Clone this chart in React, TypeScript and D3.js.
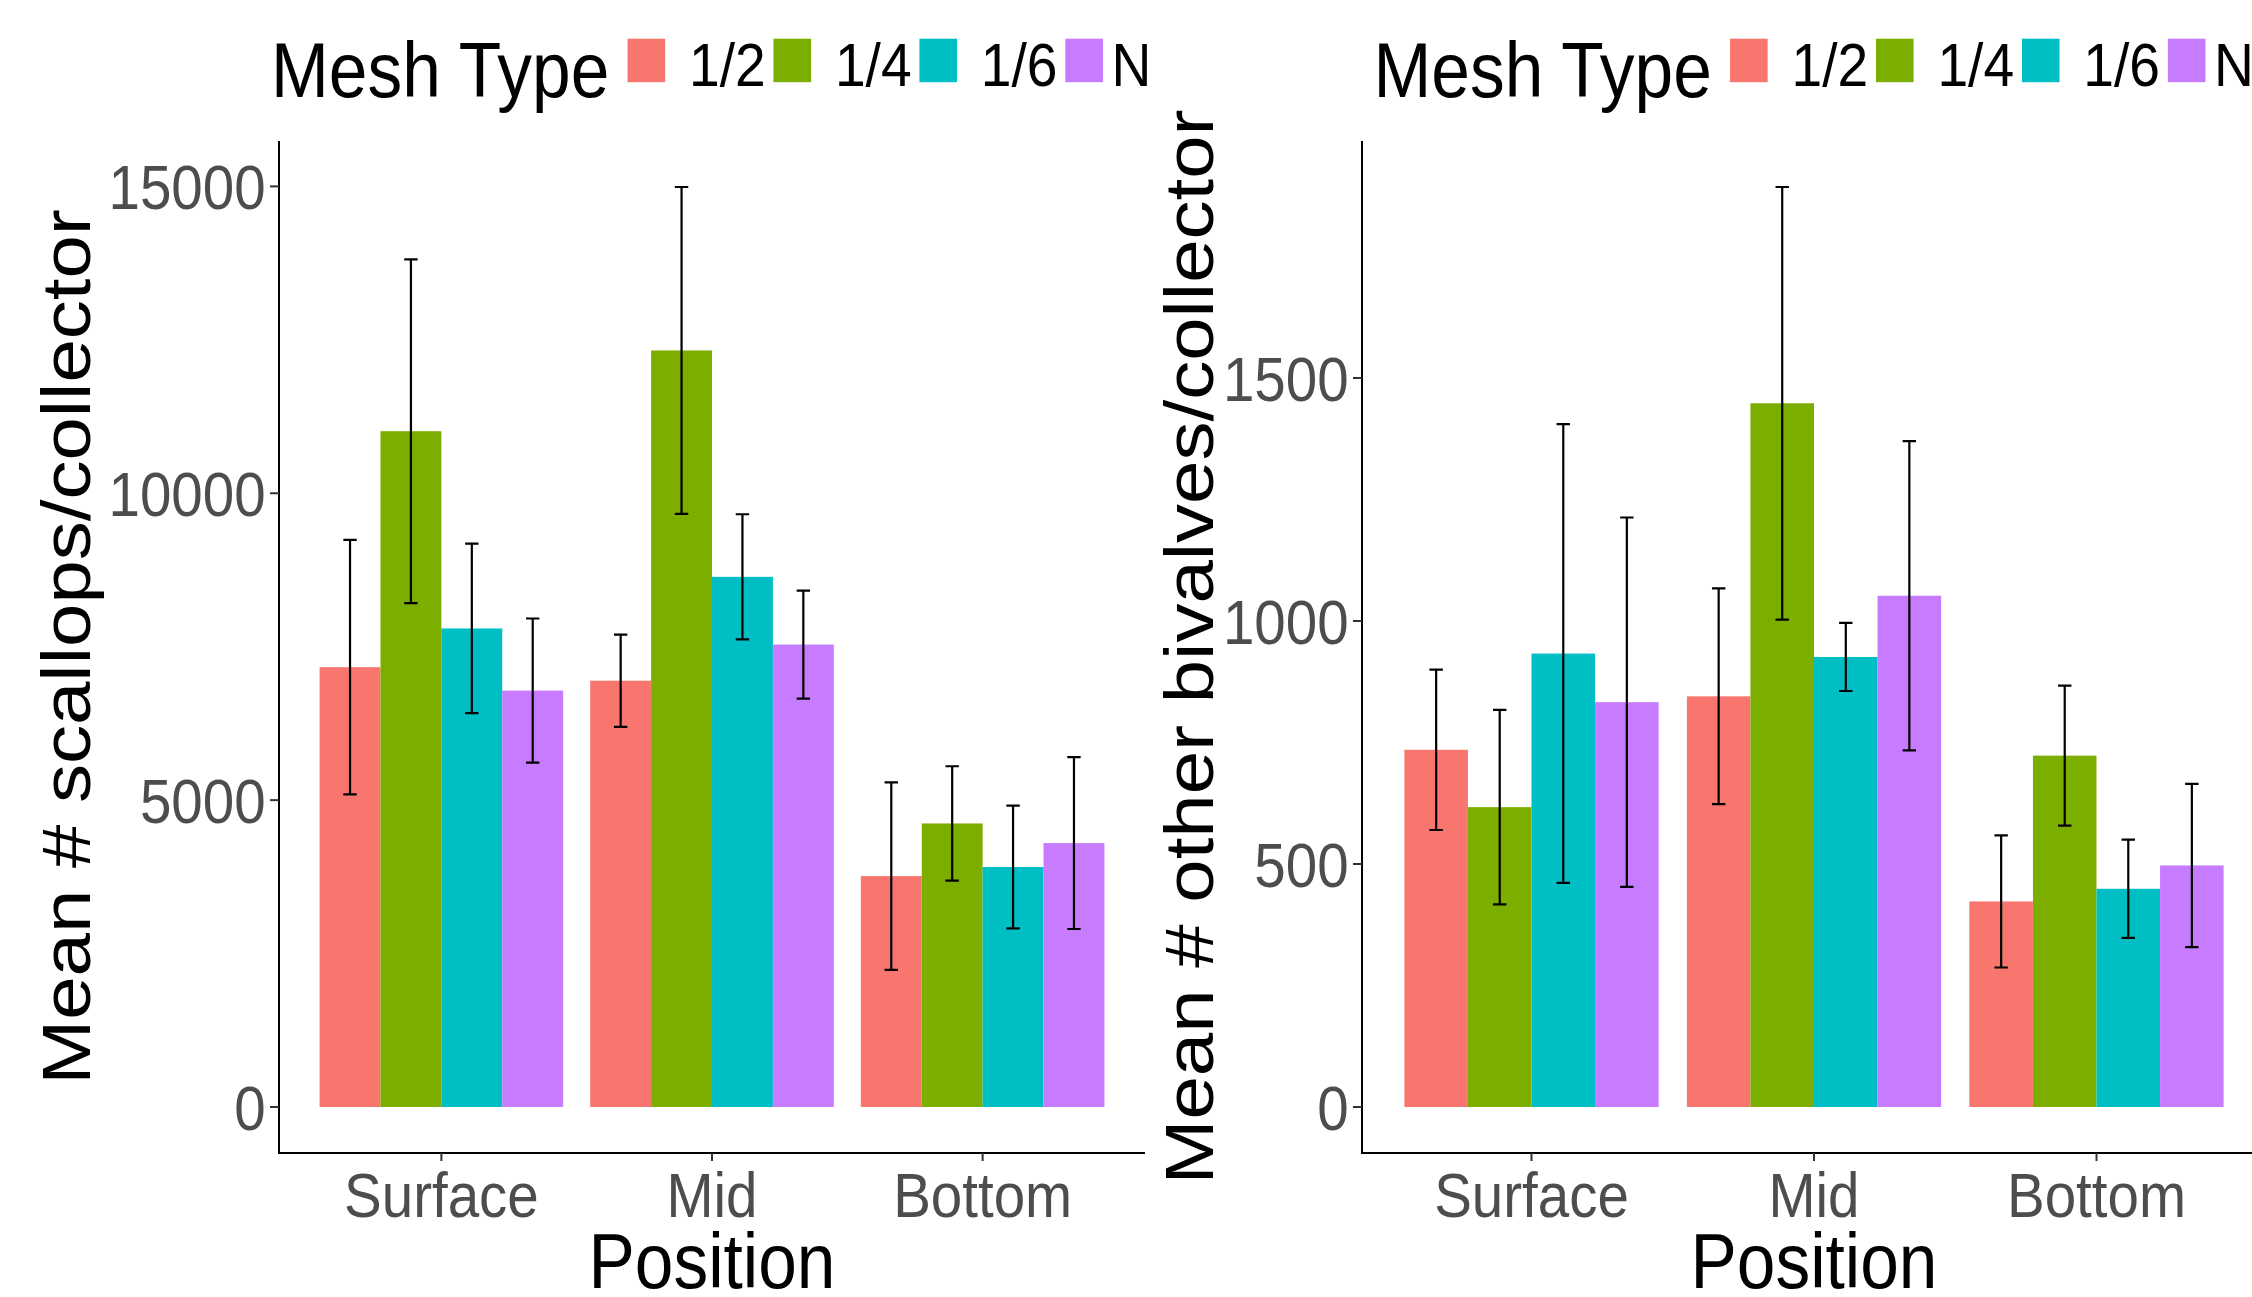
import React from "react";
import * as d3 from "d3";

// ---------- data ----------
const positions = ["Surface", "Mid", "Bottom"];
const meshTypes = ["1/2", "1/4", "1/6", "N"];
const legendLabels = [" 1/2", " 1/4", " 1/6", "N"];
const meshColors = ["#F8766D", "#7CAE00", "#00BFC4", "#C77CFF"];

// rows follow positions, columns follow meshTypes
const scallopMeans = [
  [7166, 11011, 7797, 6785],
  [6946, 12327, 8638, 7535],
  [3762, 4620, 3910, 4300],
];
const scallopSE = [
  [2073, 2800, 1381, 1174],
  [751, 2663, 1020, 880],
  [1527, 932, 1000, 1400],
];
const bivalveMeans = [
  [735, 617, 933, 833],
  [845, 1448, 926, 1052],
  [423, 723, 449, 497],
];
const bivalveSE = [
  [165, 200, 472, 380],
  [222, 445, 70, 318],
  [136, 144, 101, 168],
];
const scallopTicks = [0, 5000, 10000, 15000];
const bivalveTicks = [0, 500, 1000, 1500];

const legendTitle = "Mesh Type";
const xTitle = "Position";
const scallopTitle = "Mean # scallops/collector";
const bivalveTitle = "Mean # other bivalves/collector";

// ---------- style ----------
const FONT = '"Liberation Sans", Arial, sans-serif';
const SX = 0.89; // horizontal squeeze of the original rendering
const TITLE_SIZE = 78;
const TICK_SIZE = 63.5;
const LEGEND_SIZE = 62;

let _ctx: CanvasRenderingContext2D | null = null;
function measure(text: string, size: number): number {
  if (!_ctx) _ctx = document.createElement("canvas").getContext("2d");
  if (!_ctx) return text.length * size * 0.55;
  _ctx.font = `${size}px "Liberation Sans", Arial, sans-serif`;
  return _ctx.measureText(text).width;
}

function HText(props: {
  x: number;
  y: number;
  size: number;
  anchor?: string;
  fill?: string;
  children: string;
}) {
  const { x, y, size, anchor = "start", fill = "#000", children } = props;
  return (
    <g transform={`translate(${x},${y}) scale(${SX},1)`}>
      <text
        x={0}
        y={0}
        fontFamily={FONT}
        fontSize={size}
        textAnchor={anchor}
        fill={fill}
        xmlSpace="preserve"
        style={{ whiteSpace: "pre" }}
      >
        {children}
      </text>
    </g>
  );
}

function VText(props: { x: number; y: number; size: number; children: string }) {
  const { x, y, size, children } = props;
  return (
    <g transform={`translate(${x},${y}) rotate(-90) scale(1,${SX})`}>
      <text x={0} y={0} fontFamily={FONT} fontSize={size} textAnchor="middle" fill="#000">
        {children}
      </text>
    </g>
  );
}

function Legend({ x }: { x: number }) {
  const items: React.ReactNode[] = [];
  let cx = x + measure(legendTitle, TITLE_SIZE) * SX + 17;
  const keyW = 37.6;
  const keyH = 43.5;
  meshTypes.forEach((m, i) => {
    items.push(
      <rect key={"k" + m} x={cx} y={38.7} width={keyW} height={keyH} fill={meshColors[i]} />
    );
    const lx = cx + keyW + 8.5;
    items.push(
      <HText key={"l" + m} x={lx} y={86} size={LEGEND_SIZE}>
        {legendLabels[i]}
      </HText>
    );
    cx = lx + measure(legendLabels[i], LEGEND_SIZE) * SX + 7.8;
  });
  return (
    <g>
      <HText x={x} y={97} size={TITLE_SIZE}>
        {legendTitle}
      </HText>
      {items}
    </g>
  );
}

function Panel(props: {
  x0: number;
  x1: number;
  means: number[][];
  ses: number[][];
  ticks: number[];
  yTitle: string;
  yTitleX: number;
  legendX: number;
}) {
  const { x0, x1, means, ses, ticks, yTitle, yTitleX, legendX } = props;
  const yTop = 141;
  const yBottom = 1153;

  const uppers = means.flatMap((row, i) => row.map((v, j) => v + ses[i][j]));
  const lowers = means.flatMap((row, i) => row.map((v, j) => v - ses[i][j]));
  const lo = Math.min(0, d3.min(lowers) as number);
  const hi = d3.max(uppers) as number;
  const span = hi - lo;
  const y = d3
    .scaleLinear()
    .domain([lo - 0.05 * span, hi + 0.05 * span])
    .range([yBottom, yTop]);

  const x = d3
    .scaleBand<string>()
    .domain(positions)
    .range([x0, x1])
    .paddingInner(0.1)
    .paddingOuter(0.15);
  const xi = d3
    .scaleBand<string>()
    .domain(meshTypes)
    .range([0, x.bandwidth()]);

  const bars: React.ReactNode[] = [];
  const errs: React.ReactNode[] = [];
  const capHalf = 6.7;
  positions.forEach((p, i) => {
    meshTypes.forEach((m, j) => {
      const bx = (x(p) as number) + (xi(m) as number);
      const v = means[i][j];
      bars.push(
        <rect
          key={p + m}
          x={bx}
          y={y(Math.max(0, v))}
          width={xi.bandwidth()}
          height={Math.abs(y(0) - y(v))}
          fill={meshColors[j]}
        />
      );
      const cx = bx + xi.bandwidth() / 2;
      const yu = y(v + ses[i][j]);
      const yl = y(v - ses[i][j]);
      errs.push(
        <path
          key={"e" + p + m}
          d={`M${cx - capHalf},${yu}H${cx + capHalf}M${cx},${yu}V${yl}M${cx - capHalf},${yl}H${cx + capHalf}`}
          stroke="#000"
          strokeWidth={2.2}
          fill="none"
        />
      );
    });
  });

  return (
    <g>
      <Legend x={legendX} />
      {bars}
      {errs}
      {/* y axis */}
      <line x1={x0} x2={x0} y1={yTop} y2={yBottom + 1} stroke="#000" strokeWidth={2} />
      {ticks.map((t) => (
        <g key={"yt" + t}>
          <line x1={x0 - 9} x2={x0} y1={y(t)} y2={y(t)} stroke="#333" strokeWidth={2} />
          <HText x={x0 - 13.4} y={y(t) + 22.6} size={TICK_SIZE} anchor="end" fill="#4D4D4D">
            {String(t)}
          </HText>
        </g>
      ))}
      {/* x axis */}
      <line x1={x0 - 1} x2={x1} y1={yBottom} y2={yBottom} stroke="#000" strokeWidth={2} />
      {positions.map((p) => {
        const c = (x(p) as number) + x.bandwidth() / 2;
        return (
          <g key={"xt" + p}>
            <line x1={c} x2={c} y1={yBottom} y2={yBottom + 8} stroke="#333" strokeWidth={2} />
            <HText x={c} y={1216.7} size={TICK_SIZE} anchor="middle" fill="#4D4D4D">
              {p}
            </HText>
          </g>
        );
      })}
      <HText x={(x0 + x1) / 2} y={1288} size={TITLE_SIZE} anchor="middle">
        {xTitle}
      </HText>
      <VText x={yTitleX} y={(yTop + yBottom) / 2} size={TITLE_SIZE}>
        {yTitle}
      </VText>
    </g>
  );
}

export default function App() {
  return (
    <svg
      width={2252}
      height={1297}
      style={{ position: "absolute", left: 0, top: 0, background: "#fff", overflow: "hidden" }}
    >
      <rect x={0} y={0} width={2252} height={1297} fill="#fff" />
      <Panel
        x0={279}
        x1={1145}
        means={scallopMeans}
        ses={scallopSE}
        ticks={scallopTicks}
        yTitle={scallopTitle}
        yTitleX={90}
        legendX={271}
      />
      <Panel
        x0={1362}
        x1={2266}
        means={bivalveMeans}
        ses={bivalveSE}
        ticks={bivalveTicks}
        yTitle={bivalveTitle}
        yTitleX={1213}
        legendX={1373.5}
      />
    </svg>
  );
}
